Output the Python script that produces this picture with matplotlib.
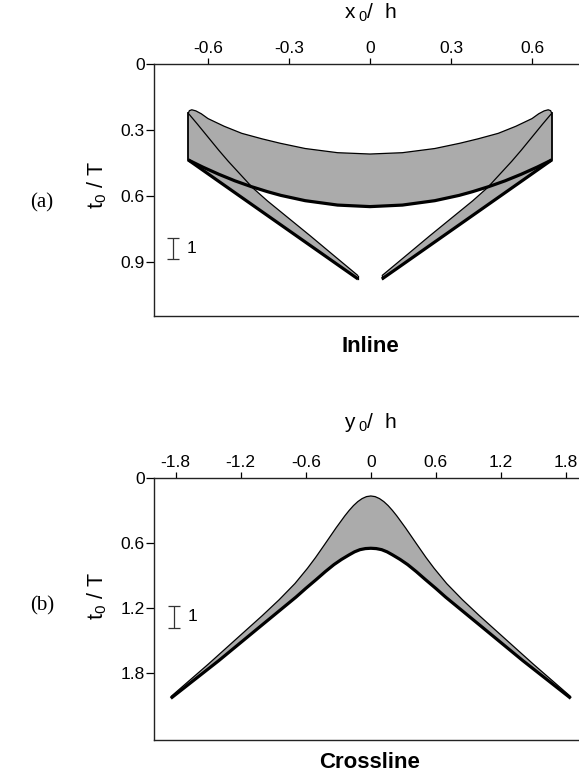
import matplotlib
matplotlib.use("Agg")
import matplotlib.pyplot as plt
import numpy as np

plt.rcParams['font.family'] = ['Liberation Sans', 'DejaVu Sans']
plt.rcParams['mathtext.fontset'] = 'custom'
plt.rcParams['mathtext.rm'] = 'Liberation Sans'
plt.rcParams['mathtext.it'] = 'Liberation Sans'
plt.rcParams['axes.unicode_minus'] = False

# ---------------- Panel (a): Inline ----------------
a_xticks = [-0.6, -0.3, 0.0, 0.3, 0.6]
a_xticklabels = ['-0.6', '-0.3', '0', '0.3', '0.6']
a_yticks = [0.0, 0.3, 0.6, 0.9]
a_yticklabels = ['0', '0.3', '0.6', '0.9']

thin_arc_x = [-0.673, -0.669, -0.660, -0.645, -0.625, -0.600, -0.540, -0.475, -0.400, -0.333, -0.240, -0.120, 0.000,
              0.120, 0.240, 0.333, 0.400, 0.475, 0.540, 0.600, 0.625, 0.645, 0.660, 0.669, 0.673]
thin_arc_t = [0.224, 0.212, 0.208, 0.213, 0.226, 0.248, 0.283, 0.315, 0.340, 0.360, 0.384, 0.403, 0.409,
              0.403, 0.384, 0.360, 0.340, 0.315, 0.283, 0.248, 0.226, 0.213, 0.208, 0.212, 0.224]

thin_left_x = [-0.673, -0.640, -0.600, -0.560, -0.525, -0.480, -0.435, -0.380, -0.300, -0.220, -0.140, -0.044]
thin_left_t = [0.224, 0.272, 0.332, 0.392, 0.442, 0.502, 0.562, 0.622, 0.702, 0.782, 0.864, 0.962]
thin_right_x = [0.673, 0.640, 0.600, 0.560, 0.525, 0.480, 0.435, 0.380, 0.300, 0.220, 0.140, 0.044]
thin_right_t = [0.224, 0.272, 0.332, 0.392, 0.442, 0.502, 0.562, 0.622, 0.702, 0.782, 0.864, 0.962]

thick_arc_x = [-0.673, -0.620, -0.560, -0.500, -0.440, -0.380, -0.330, -0.240, -0.120, 0.000,
               0.120, 0.240, 0.330, 0.380, 0.440, 0.500, 0.560, 0.620, 0.673]
thick_arc_t = [0.436, 0.468, 0.501, 0.531, 0.557, 0.580, 0.597, 0.621, 0.641, 0.648,
               0.641, 0.621, 0.597, 0.580, 0.557, 0.531, 0.501, 0.468, 0.436]

thick_left_x = [-0.673, -0.550, -0.400, -0.250, -0.100, -0.044]
thick_left_t = [0.436, 0.542, 0.671, 0.800, 0.929, 0.977]
thick_right_x = [0.673, 0.550, 0.400, 0.250, 0.100, 0.044]
thick_right_t = [0.436, 0.542, 0.671, 0.800, 0.929, 0.977]

a_scale_x = -0.73
a_scale_t = [0.792, 0.888]

# ---------------- Panel (b): Crossline ----------------
b_xticks = [-1.8, -1.2, -0.6, 0.0, 0.6, 1.2, 1.8]
b_xticklabels = ['-1.8', '-1.2', '-0.6', '0', '0.6', '1.2', '1.8']
b_yticks = [0.0, 0.6, 1.2, 1.8]
b_yticklabels = ['0', '0.6', '1.2', '1.8']

thin_b_x = [-1.845, -1.5, -1.2, -1.0, -0.846, -0.70, -0.585, -0.51, -0.43, -0.32, -0.24, -0.20, -0.16, -0.12, -0.08, -0.04, 0.0,
            0.04, 0.08, 0.12, 0.16, 0.20, 0.24, 0.32, 0.43, 0.51, 0.585, 0.70, 0.846, 1.0, 1.2, 1.5, 1.845]
thin_b_t = [2.02, 1.72, 1.45, 1.27, 1.125, 0.975, 0.835, 0.735, 0.62, 0.46, 0.35, 0.30, 0.255, 0.218, 0.19, 0.172, 0.166,
            0.172, 0.19, 0.218, 0.255, 0.30, 0.35, 0.46, 0.62, 0.735, 0.835, 0.975, 1.125, 1.27, 1.45, 1.72, 2.02]

thick_b_x = [-1.845, -1.4, -1.0, -0.69, -0.6, -0.5, -0.42, -0.34, -0.27, -0.2, -0.15, -0.1, -0.05, 0.0,
             0.05, 0.1, 0.15, 0.2, 0.27, 0.34, 0.42, 0.5, 0.6, 0.69, 1.0, 1.4, 1.845]
thick_b_t = [2.035, 1.685, 1.355, 1.10, 1.02, 0.935, 0.865, 0.80, 0.752, 0.71, 0.682, 0.662, 0.652, 0.649,
             0.652, 0.662, 0.682, 0.71, 0.752, 0.80, 0.865, 0.935, 1.02, 1.10, 1.355, 1.685, 2.035]

b_scale_x = -1.815
b_scale_t = [1.18, 1.387]

GRAY = '#ababab'
W = 579.0
H = 775.0
fig = plt.figure(figsize=(5.79, 7.75), dpi=100)

ax1 = fig.add_axes([154 / W, 1 - 316 / H, 432 / W, 252 / H])
ax2 = fig.add_axes([154 / W, 1 - 740 / H, 433.6 / W, 262 / H])


def style(ax, xticks, xlabels, yticks, ylabels):
    ax.xaxis.tick_top()
    ax.spines['right'].set_visible(False)
    for s in ['left', 'top', 'bottom']:
        ax.spines[s].set_color('#222222')
        ax.spines[s].set_linewidth(1.0)
    ax.set_xticks(xticks)
    ax.set_xticklabels(xlabels)
    ax.set_yticks(yticks)
    ax.set_yticklabels(ylabels)
    ax.tick_params(axis='x', length=4, width=0.9, pad=1.5, labelsize=12.5, colors='black')
    ax.tick_params(axis='y', length=5.5, width=0.9, pad=1.0, labelsize=12.5, colors='black')


# ---- panel (a) drawing ----
ax1.fill(thin_arc_x + thick_arc_x[::-1], thin_arc_t + thick_arc_t[::-1], color=GRAY, lw=0)
ax1.fill(thin_left_x + thick_left_x[::-1], thin_left_t + thick_left_t[::-1], color=GRAY, lw=0)
ax1.fill(thin_right_x + thick_right_x[::-1], thin_right_t + thick_right_t[::-1], color=GRAY, lw=0)

kw_thin = dict(color='black', lw=0.9, solid_capstyle='butt', solid_joinstyle='round')
kw_thick = dict(color='black', lw=2.3, solid_capstyle='butt', solid_joinstyle='miter')
ax1.plot(thin_arc_x, thin_arc_t, **kw_thin)
ax1.plot(thin_left_x, thin_left_t, **kw_thin)
ax1.plot(thin_right_x, thin_right_t, **kw_thin)
ax1.plot([thin_left_x[0], thick_left_x[0]], [thin_left_t[0], thick_left_t[0]], color='black', lw=1.3)
ax1.plot([thin_right_x[0], thick_right_x[0]], [thin_right_t[0], thick_right_t[0]], color='black', lw=1.3)
ax1.plot([thin_left_x[-1], thick_left_x[-1]], [thin_left_t[-1], thick_left_t[-1]], color='black', lw=0.9)
ax1.plot([thin_right_x[-1], thick_right_x[-1]], [thin_right_t[-1], thick_right_t[-1]], color='black', lw=0.9)
ax1.plot(thick_arc_x, thick_arc_t, **kw_thick)
ax1.plot(thick_left_x, thick_left_t, **kw_thick)
ax1.plot(thick_right_x, thick_right_t, **kw_thick)

ax1.set_xlim(-0.8, 0.8)
ax1.set_ylim(1.145, 0)
style(ax1, a_xticks, a_xticklabels, a_yticks, a_yticklabels)

a_mid = np.mean(a_scale_t)
ax1.errorbar([a_scale_x], [a_mid], yerr=[[a_mid - a_scale_t[0]], [a_scale_t[1] - a_mid]],
             fmt='none', ecolor='#333333', elinewidth=0.9, capsize=4, capthick=0.9)
ax1.text(-0.68, a_mid, '1', fontsize=12.5, va='center', ha='left')

# ---- panel (b) drawing ----
ax2.fill(thin_b_x + thick_b_x[::-1], thin_b_t + thick_b_t[::-1], color=GRAY, lw=0)
ax2.plot(thin_b_x, thin_b_t, **kw_thin)
ax2.plot(thick_b_x, thick_b_t, **kw_thick)
ax2.set_xlim(-2.0, 2.0)
ax2.set_ylim(2.42, 0)
style(ax2, b_xticks, b_xticklabels, b_yticks, b_yticklabels)

b_mid = np.mean(b_scale_t)
ax2.errorbar([b_scale_x], [b_mid], yerr=[[b_mid - b_scale_t[0]], [b_scale_t[1] - b_mid]],
             fmt='none', ecolor='#333333', elinewidth=0.9, capsize=4, capthick=0.9)
ax2.text(-1.69, b_mid, '1', fontsize=12.5, va='center', ha='left')

# ---- labels ----
fig.text(370 / W, 1 - 13 / H, r'x$_{\;\mathrm{0}}$/  h', fontsize=15, ha='center', va='center')
fig.text(370 / W, 1 - 423 / H, r'y$_{\;\mathrm{0}}$/  h', fontsize=15, ha='center', va='center')
fig.text(97 / W, 1 - 185 / H, r't$_{\mathrm{0}}$ / T', fontsize=15.5, ha='center', va='center', rotation=90)
fig.text(97 / W, 1 - 596 / H, r't$_{\mathrm{0}}$ / T', fontsize=15.5, ha='center', va='center', rotation=90)
fig.text(370 / W, 1 - 346 / H, 'Inline', fontsize=16, fontweight='bold', ha='center', va='center')
fig.text(370 / W, 1 - 762 / H, 'Crossline', fontsize=16, fontweight='bold', ha='center', va='center')
fig.text(42 / W, 1 - 203 / H, '(a)', fontsize=15, ha='center', va='center', family=['Liberation Serif', 'DejaVu Serif'])
fig.text(42 / W, 1 - 606 / H, '(b)', fontsize=15, ha='center', va='center', family=['Liberation Serif', 'DejaVu Serif'])

fig.savefig('out.png', dpi=100)
